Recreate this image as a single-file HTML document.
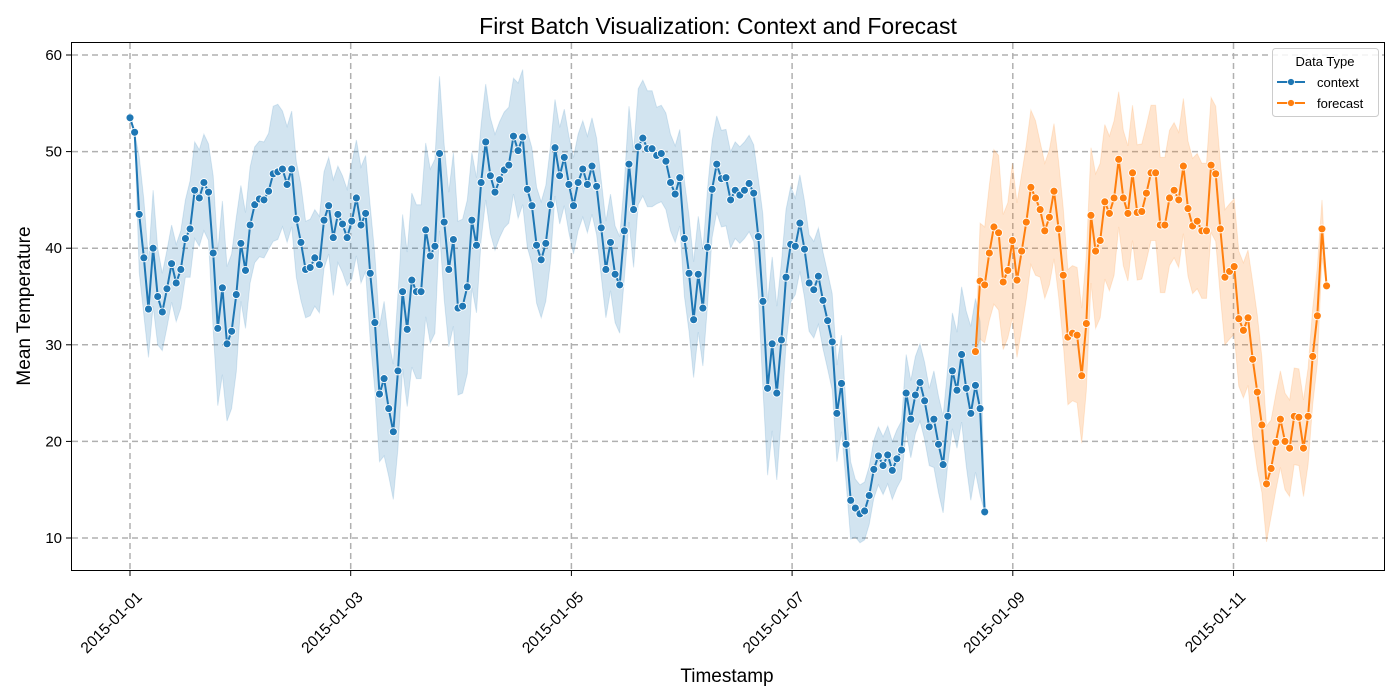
<!DOCTYPE html>
<html><head><meta charset="utf-8">
<style>
html,body{margin:0;padding:0;background:#fff;}
svg{display:block;font-family:"Liberation Sans","DejaVu Sans",sans-serif;}
</style></head>
<body>
<svg id="chart" width="1400" height="700" xmlns="http://www.w3.org/2000/svg">
  <rect x="0" y="0" width="1400" height="700" fill="#fff"/>
  <text x="718" y="34" font-size="23" text-anchor="middle" fill="#000">First Batch Visualization: Context and Forecast</text>
  <g id="grid"></g>
  <g id="bands"></g>
  <g id="lines"></g>
  <rect x="71.5" y="42.5" width="1313" height="528" fill="none" stroke="#000" stroke-width="1"/>
  <g id="axes"></g>
  <text x="727" y="682" font-size="19" text-anchor="middle">Timestamp</text>
  <text transform="translate(30,306) rotate(-90)" font-size="19" text-anchor="middle">Mean Temperature</text>
  <g>
    <rect x="1272.5" y="48.5" width="106" height="68" rx="3" fill="#fff" fill-opacity="0.85" stroke="#ccc"/>
    <text x="1325" y="66" font-size="13" text-anchor="middle">Data Type</text>
    <g>
      <line x1="1277" y1="82" x2="1305" y2="82" stroke="#1f77b4" stroke-width="2"/>
      <circle cx="1291" cy="82" r="3.5" fill="#1f77b4" stroke="#fff" stroke-width="0.8"/>
      <text x="1317" y="87" font-size="13">context</text>
    </g>
    <g>
      <line x1="1277" y1="103" x2="1305" y2="103" stroke="#ff7f0e" stroke-width="2"/>
      <circle cx="1291" cy="103" r="3.5" fill="#ff7f0e" stroke="#fff" stroke-width="0.8"/>
      <text x="1317" y="108" font-size="13">forecast</text>
    </g>
  </g>
</svg>
<script>
const xTickLabels = ["2015-01-01","2015-01-03","2015-01-05","2015-01-07","2015-01-09","2015-01-11"];
const xTickHours = [0,48,96,144,192,240];
const yTicks = [10,20,30,40,50,60];
const contextValues = [53.5,52,43.5,39,33.7,40,35,33.4,35.8,38.4,36.4,37.8,41,42,46,45.2,46.8,45.8,39.5,31.7,35.9,30.1,31.4,35.2,40.5,37.7,42.4,44.5,45.1,45,45.9,47.7,47.9,48.2,46.6,48.2,43,40.6,37.8,38,39,38.3,42.9,44.4,41.1,43.5,42.5,41.1,
42.8,45.2,42.4,43.6,37.4,32.3,24.9,26.5,23.4,21,27.3,35.5,31.6,36.7,35.5,35.5,41.9,39.2,40.2,49.8,42.7,37.8,40.9,33.8,34,36,42.9,40.3,46.8,51,47.5,45.8,47.1,48.1,48.6,51.6,50.1,51.5,46.1,44.4,40.3,38.8,40.5,44.5,50.4,47.5,49.4,46.6,
44.4,46.8,48.2,46.6,48.5,46.4,42.1,37.8,40.6,37.3,36.2,41.8,48.7,44,50.5,51.4,50.3,50.3,49.6,49.8,49,46.8,45.6,47.3,41,37.4,32.6,37.3,33.8,40.1,46.1,48.7,47.2,47.3,45,46,45.5,46,46.7,45.7,41.2,34.5,25.5,30.1,25,30.5,37,40.4,
40.2,42.6,39.9,36.4,35.7,37.1,34.6,32.5,30.3,22.9,26,19.7,13.9,13.1,12.5,12.8,14.4,17.1,18.5,17.5,18.6,17,18.2,19.1,25,22.3,24.8,26.1,24.2,21.5,22.3,19.7,17.6,22.6,27.3,25.3,29,25.5,22.9,25.8,23.4,12.7];
const contextSpread = [0,0,6,6,5,6,5,4,4,4,4,4,4,5,5,5,5,5,8,8,9,8,8,8,6,6,6,6,6,6,6,7,7,6,6,6,6,6,5,5,5,5,5,5,6,5,5,5,
6,6,6,6,7,7,7,8,7,7,8,8,8,9,9,9,9,9,9,8,8,8,9,9,9,9,7,7,6,6,6,6,6,6,6,6,7,7,6,6,6,6,6,6,5,5,5,5,
5,5,5,5,5,5,5,5,5,5,5,5,6,6,6,6,6,6,5,5,5,5,5,5,6,6,6,6,6,6,5,5,5,5,5,5,5,5,5,5,6,9,9,9,9,8,7,6,
5,5,5,5,5,5,5,5,5,5,5,4,4,3,3,3,3,3,3,3,3,3,3,3,4,4,4,4,4,4,5,5,5,5,6,6,7,8,9,9,9,0];
const forecastStart = 183;
const forecastValues = [29.3,36.6,36.2,39.5,42.2,41.6,36.5,37.7,40.8,36.7,39.7,42.7,46.3,45.2,44,41.8,43.2,45.9,42,37.2,30.8,31.2,31,26.8,32.2,43.4,39.7,40.8,44.8,43.6,45.2,49.2,45.2,43.6,47.8,43.7,43.8,45.7,47.8,47.8,42.4,42.4,45.2,46,45,48.5,44.1,42.3,42.8,41.8,41.8,48.6,47.7,42,37,37.6,38.1,32.7,31.5,32.8,28.5,25.1,21.7,15.6,17.2,19.9,22.3,20,19.3,22.6,22.5,19.3,22.6,28.8,33,42,36.1];
const forecastSpread = [0,6,6,7,8,8,7,7,8,8,8,8,8,8,7,7,7,7,7,7,7,7,7,7,7,7,8,8,8,8,8,7,7,7,7,7,7,7,7,7,7,7,7,7,7,7,7,7,7,7,7,7,7,7,7,7,7,7,7,7,8,8,7,6,5,5,5,5,5,5,5,5,5,5,5,3,0];

const X0 = 130, PXH = 4.62;
const xs = h => X0 + h*PXH;
const ys = v => 538 - (v-10)*9.66;
const NS = "http://www.w3.org/2000/svg";
function mk(tag, attrs, parent){ const e=document.createElementNS(NS,tag); for(const k in attrs) e.setAttribute(k,attrs[k]); parent.appendChild(e); return e; }
const grid=document.getElementById('grid'), axes=document.getElementById('axes'), bands=document.getElementById('bands'), lines=document.getElementById('lines');

const tickX = h => 130 + h*110.35/24;
xTickHours.forEach((h,i)=>{
  const x=tickX(h);
  const g=mk('line',{x1:x,y1:43,x2:x,y2:570,stroke:'#b0b0b0','stroke-width':1.5,'stroke-dasharray':'6,4'},grid);
  
  
  mk('line',{x1:x,y1:571,x2:x,y2:576,stroke:'#000'},axes);
  const t=mk('text',{transform:`translate(${x+13},${598}) rotate(-45)`,'font-size':15.5,'text-anchor':'end'},axes);
  t.textContent=xTickLabels[i];
  
  
});
yTicks.forEach(v=>{
  const y=ys(v);
  const g=mk('line',{x1:72,y1:y,x2:1384,y2:y,stroke:'#b0b0b0','stroke-width':1.5,'stroke-dasharray':'6,4'},grid);
  
  
  mk('line',{x1:66,y1:y,x2:71,y2:y,stroke:'#000'},axes);
  const t=mk('text',{x:62,y:y+5,'font-size':15,'text-anchor':'end'},axes);
  t.textContent=v;
  
  
});

function series(vals, spread, start, color, name){
  let up='', lo='';
  vals.forEach((v,i)=>{ up+=(i?'L':'M')+xs(start+i).toFixed(1)+','+ys(v+spread[i]).toFixed(1); });
  for(let i=vals.length-1;i>=0;i--) lo+='L'+xs(start+i).toFixed(1)+','+ys(vals[i]-spread[i]).toFixed(1);
  const b=mk('path',{d:up+lo+'Z',fill:color,'fill-opacity':0.2,stroke:color,'stroke-opacity':0.15},bands);
  
  
  const d=vals.map((v,i)=>(i?'L':'M')+xs(start+i).toFixed(1)+','+ys(v).toFixed(1)).join('');
  const l=mk('path',{d:d,fill:'none',stroke:color,'stroke-width':2},lines);
  
  
  vals.forEach((v,i)=>{
    const c=mk('circle',{cx:xs(start+i),cy:ys(v),r:4,fill:color,stroke:'#fff','stroke-width':0.9},lines);
    
    
  });
}
series(contextValues, contextSpread, 0, '#1f77b4', 'context');
series(forecastValues, forecastSpread, forecastStart, '#ff7f0e', 'forecast');
</script>
</body></html>
